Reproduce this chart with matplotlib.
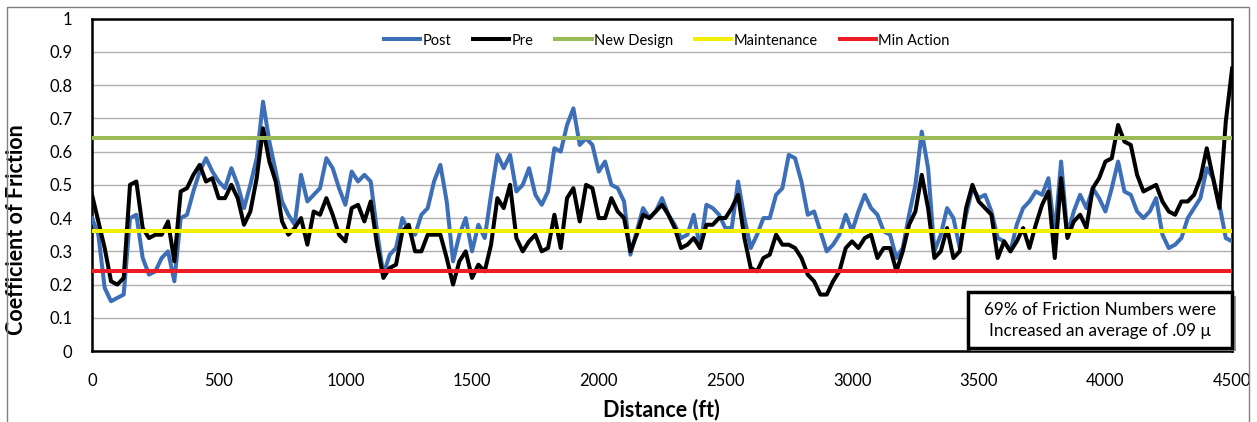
import numpy as np
import matplotlib
matplotlib.use("Agg")
import matplotlib.pyplot as plt
from matplotlib.patches import Rectangle

plt.rcParams["font.family"] = ["Lato", "DejaVu Sans"]

# friction readings every 25 ft, 0 .. 4500 ft
post = [
    0.40, 0.35, 0.19, 0.15, 0.16, 0.17, 0.40, 0.41, 0.28, 0.23,
    0.24, 0.28, 0.30, 0.21, 0.40, 0.41, 0.48, 0.54, 0.58, 0.54,
    0.51, 0.49, 0.55, 0.50, 0.43, 0.50, 0.58, 0.75, 0.63, 0.54,
    0.45, 0.41, 0.38, 0.53, 0.45, 0.47, 0.49, 0.58, 0.55, 0.49,
    0.44, 0.54, 0.51, 0.53, 0.51, 0.36, 0.23, 0.29, 0.31, 0.40,
    0.36, 0.35, 0.41, 0.43, 0.51, 0.56, 0.45, 0.27, 0.35, 0.40,
    0.30, 0.38, 0.34, 0.47, 0.59, 0.55, 0.59, 0.48, 0.50, 0.55,
    0.47, 0.44, 0.48, 0.61, 0.60, 0.68, 0.73, 0.62, 0.64, 0.62,
    0.54, 0.57, 0.50, 0.49, 0.45, 0.29, 0.36, 0.43, 0.40, 0.42,
    0.46, 0.41, 0.38, 0.34, 0.35, 0.41, 0.31, 0.44, 0.43, 0.41,
    0.37, 0.37, 0.51, 0.40, 0.31, 0.35, 0.40, 0.40, 0.47, 0.49,
    0.59, 0.58, 0.51, 0.41, 0.42, 0.36, 0.30, 0.32, 0.35, 0.41,
    0.36, 0.42, 0.47, 0.43, 0.41, 0.36, 0.35, 0.28, 0.31, 0.41,
    0.50, 0.66, 0.55, 0.30, 0.35, 0.43, 0.40, 0.31, 0.41, 0.49,
    0.46, 0.47, 0.42, 0.34, 0.33, 0.30, 0.38, 0.43, 0.45, 0.48,
    0.47, 0.52, 0.35, 0.57, 0.35, 0.42, 0.47, 0.43, 0.49, 0.46,
    0.42, 0.49, 0.57, 0.48, 0.47, 0.42, 0.40, 0.42, 0.46, 0.35,
    0.31, 0.32, 0.34, 0.40, 0.43, 0.46, 0.55, 0.52, 0.44, 0.34,
    0.33,
]

pre = [
    0.47, 0.39, 0.31, 0.21, 0.20, 0.22, 0.50, 0.51, 0.37, 0.34,
    0.35, 0.35, 0.39, 0.27, 0.48, 0.49, 0.53, 0.56, 0.51, 0.52,
    0.46, 0.46, 0.50, 0.46, 0.38, 0.42, 0.52, 0.67, 0.57, 0.51,
    0.39, 0.35, 0.37, 0.40, 0.32, 0.42, 0.41, 0.46, 0.41, 0.35,
    0.33, 0.43, 0.44, 0.39, 0.45, 0.32, 0.22, 0.25, 0.26, 0.36,
    0.38, 0.30, 0.30, 0.35, 0.35, 0.35, 0.28, 0.20, 0.27, 0.30,
    0.22, 0.26, 0.24, 0.32, 0.46, 0.43, 0.50, 0.34, 0.30, 0.33,
    0.35, 0.30, 0.31, 0.41, 0.31, 0.46, 0.49, 0.39, 0.50, 0.49,
    0.40, 0.40, 0.46, 0.42, 0.40, 0.30, 0.35, 0.41, 0.40, 0.42,
    0.44, 0.41, 0.37, 0.31, 0.32, 0.34, 0.31, 0.38, 0.38, 0.40,
    0.40, 0.43, 0.47, 0.34, 0.25, 0.24, 0.28, 0.29, 0.35, 0.32,
    0.32, 0.31, 0.28, 0.23, 0.21, 0.17, 0.17, 0.21, 0.24, 0.31,
    0.33, 0.31, 0.34, 0.35, 0.28, 0.31, 0.31, 0.24, 0.30, 0.38,
    0.42, 0.53, 0.43, 0.28, 0.30, 0.37, 0.28, 0.30, 0.43, 0.50,
    0.45, 0.43, 0.41, 0.28, 0.33, 0.30, 0.33, 0.37, 0.31, 0.38,
    0.44, 0.48, 0.28, 0.52, 0.34, 0.39, 0.41, 0.37, 0.49, 0.52,
    0.57, 0.58, 0.68, 0.63, 0.62, 0.53, 0.48, 0.49, 0.50, 0.45,
    0.42, 0.41, 0.45, 0.45, 0.47, 0.52, 0.61, 0.52, 0.43, 0.69,
    0.85,
]

new_design = 0.64
maintenance = 0.36
min_action = 0.24

dist_post = np.linspace(0, 4500, len(post))
dist_pre = np.linspace(0, 4500, len(pre))

fig = plt.figure(figsize=(12.57, 4.22), dpi=100)
ax = fig.add_axes([0.0732, 0.168, 0.907, 0.788])

ax.plot(dist_post, post, color="#3d6fb8", lw=2.9, label="Post", zorder=3)
ax.plot(dist_pre, pre, color="black", lw=2.9, label="Pre", zorder=4)
ax.axhline(new_design, color="#9bbb59", lw=2.9, label="New Design", zorder=5)
ax.axhline(maintenance, color="#f2ef00", lw=2.9, label="Maintenance", zorder=5)
ax.axhline(min_action, color="#ee1c25", lw=2.9, label="Min Action", zorder=5)

ax.set_xlim(0, 4500)
ax.set_ylim(0, 1)
ax.set_xticks(np.arange(0, 4501, 500))
ax.set_yticks(np.arange(0, 1.01, 0.1))
ax.set_yticklabels(["0", "0.1", "0.2", "0.3", "0.4", "0.5", "0.6", "0.7", "0.8", "0.9", "1"])
ax.tick_params(axis="both", labelsize=12, length=0)
ax.tick_params(axis="x", pad=16)
ax.tick_params(axis="y", pad=14)
ax.grid(axis="y", color="#b0b0b0", lw=1)
ax.set_axisbelow(True)
for s in ax.spines.values():
    s.set_linewidth(1.8)
    s.set_color("black")

ax.set_xlabel("Distance (ft)", fontsize=15.5, fontweight="bold")
ax.set_ylabel("Coefficient of Friction", fontsize=15.5, fontweight="bold")
ax.xaxis.set_label_coords(0.499, -0.142)
ax.yaxis.set_label_coords(-0.057, 0.364)

ax.legend(loc="center", bbox_to_anchor=(0.504, 0.934), ncol=5, frameon=False,
          fontsize=10.5, handlelength=2.5, columnspacing=1.5, handletextpad=0.15)

# note box
shadow = Rectangle((0.771, 0.0), 0.232, 0.165, transform=ax.transAxes,
                   facecolor="#9a9a9a", edgecolor="none", zorder=6, clip_on=False)
box = Rectangle((0.768, 0.009), 0.232, 0.168, transform=ax.transAxes,
                facecolor="white", edgecolor="black", lw=2.5, zorder=7, clip_on=False)
ax.add_patch(shadow)
ax.add_patch(box)
ax.text(0.884, 0.093, "69% of Friction Numbers were\nIncreased an average of .09 \u03bc",
        transform=ax.transAxes, ha="center", va="center", fontsize=12.3,
        linespacing=1.4, zorder=8)

# outer chart border
fig.add_artist(Rectangle((0.0056, -0.01), 0.988, 0.994, transform=fig.transFigure,
                         fill=False, edgecolor="#808080", lw=1))

fig.savefig("out.png", dpi=100)
